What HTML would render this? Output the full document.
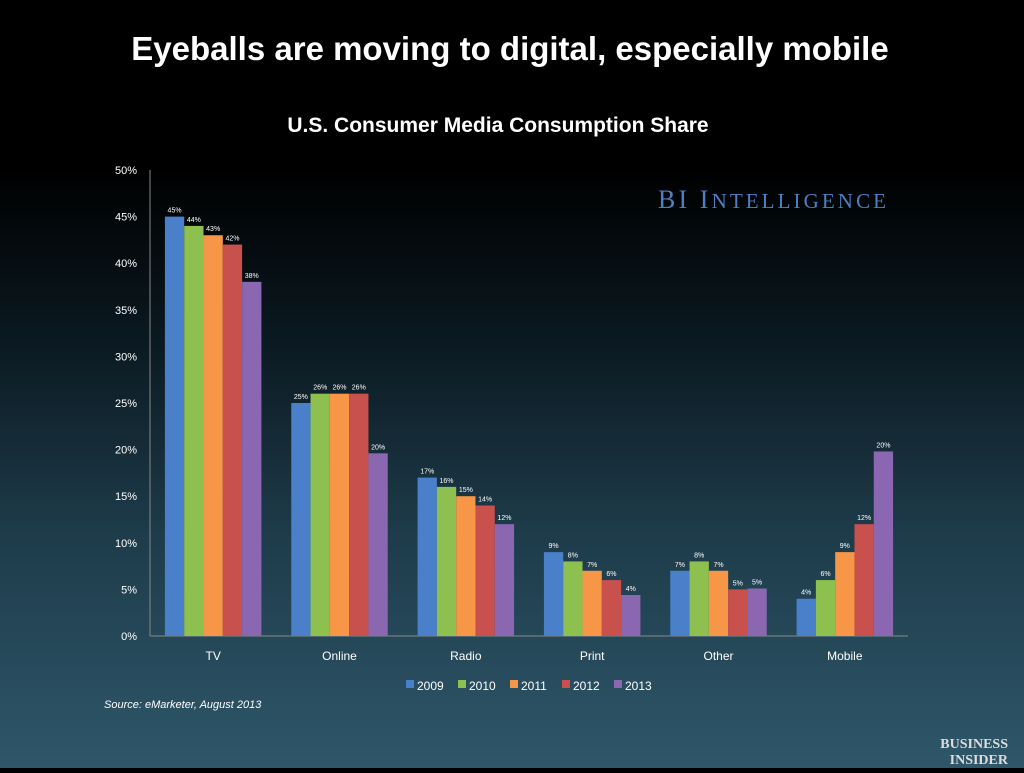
<!DOCTYPE html>
<html><head><meta charset="utf-8"><style>
html,body{margin:0;padding:0;}
body{width:1024px;height:768px;overflow:hidden;background:linear-gradient(to bottom,#000 0%,#000 22%,#0b1a22 45%,#1e3c4b 70%,#2e5769 100%);font-family:"Liberation Sans",sans-serif;}
</style></head><body>
<svg id="chart" width="1024" height="768" xmlns="http://www.w3.org/2000/svg">
<text x="510" y="60" text-anchor="middle" fill="#fff" font-size="33" font-weight="bold" font-family="Liberation Sans, sans-serif">Eyeballs are moving to digital, especially mobile</text>
<text x="498" y="132" text-anchor="middle" fill="#fff" font-size="21" font-weight="bold">U.S. Consumer Media Consumption Share</text>
<text x="658" y="208" fill="#4f7fc0" font-size="26" font-family="Liberation Serif, serif" textLength="228">BI I<tspan font-size="21">NTELLIGENCE</tspan></text>
<text x="104" y="708" fill="#fff" font-size="11" font-style="italic">Source: eMarketer, August 2013</text>
<text x="1008" y="748" text-anchor="end" fill="#ddd" font-size="14" font-weight="bold" font-family="Liberation Serif, serif">BUSINESS</text>
<text x="1008" y="764" text-anchor="end" fill="#ddd" font-size="14" font-weight="bold" font-family="Liberation Serif, serif">INSIDER</text>
<g id="plot"></g>
</svg>
<script>
const categories=["TV","Online","Radio","Print","Other","Mobile"];
const years=["2009","2010","2011","2012","2013"];
const s2009=[45,25,17,9,7,4];
const s2010=[44,26,16,8,8,6];
const s2011=[43,26,15,7,7,9];
const s2012=[42,26,14,6,5,12];
const s2013=[38,19.6,12,4.4,5.1,19.8];
const yTicks=[0,5,10,15,20,25,30,35,40,45,50];
const series=[s2009,s2010,s2011,s2012,s2013];
const colors=["#4a7fc9","#8dc04f","#f79646","#c8504d","#8a67b0"];
const NS="http://www.w3.org/2000/svg";
const g=document.getElementById('plot');
const x0=150,x1=908,y0=636,y1=170,yMax=50;
const y=v=>y0-(v/yMax)*(y0-y1);
const band=(x1-x0)/categories.length;
const bw=19.3;
function mk(t,a){const e=document.createElementNS(NS,t);for(const k in a)e.setAttribute(k,a[k]);g.appendChild(e);return e;}
yTicks.forEach(t=>{
 const e=mk('text',{x:x0-13,y:y(t)+4,'text-anchor':'end',fill:'#fff','font-size':11});
 
 
 e.textContent=t+'%';
});
const ax=mk('line',{x1:x0,x2:x1,y1:y0,y2:y0,stroke:'#888','stroke-width':1});


const ay=mk('line',{x1:x0,x2:x0,y1:y1,y2:y0,stroke:'#888','stroke-width':1});


categories.forEach((c,i)=>{
 const gx=x0+band*i+(band-bw*5)/2;
 series.forEach((s,j)=>{
  const r=mk('rect',{x:gx+bw*j,y:y(s[i]),width:bw,height:y0-y(s[i]),fill:colors[j]});
  
  
  const l=mk('text',{x:gx+bw*j+bw/2,y:y(s[i])-4,'text-anchor':'middle',fill:'#fff','font-size':7});
  
  
  l.textContent=Math.round(s[i])+'%';
 });
 const cl=mk('text',{x:x0+band*(i+0.5),y:660,'text-anchor':'middle',fill:'#fff','font-size':12});
 
 
 cl.textContent=c;
});
years.forEach((yr,j)=>{
 const lx=406+j*52;
 const sw=mk('rect',{x:lx,y:680,width:8,height:8,fill:colors[j]});
 
 
 const t=mk('text',{x:lx+11,y:690,fill:'#fff','font-size':12});
 
 
 t.textContent=yr;
});
</script>
</body></html>
